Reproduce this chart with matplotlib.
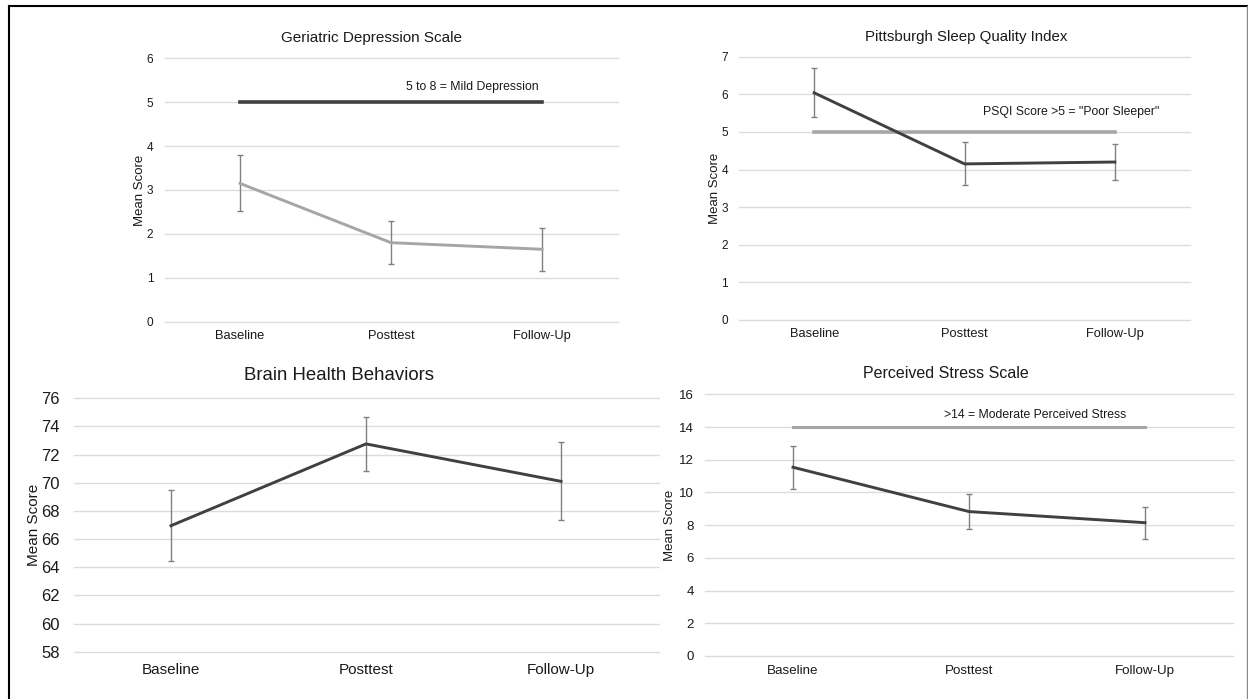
import matplotlib
matplotlib.use("Agg")
import matplotlib.pyplot as plt
from matplotlib.lines import Line2D

plt.rcParams["font.family"] = ["Liberation Sans", "DejaVu Sans"]

categories = ["Baseline", "Posttest", "Follow-Up"]

# Geriatric Depression Scale
gds_mean = [3.15, 1.80, 1.65]
gds_upper = [3.79, 2.29, 2.14]
gds_lower = [2.52, 1.31, 1.16]
gds_ref = 5

# Pittsburgh Sleep Quality Index
psqi_mean = [6.04, 4.15, 4.20]
psqi_upper = [6.69, 4.72, 4.69]
psqi_lower = [5.40, 3.58, 3.71]
psqi_ref = 5

# Brain Health Behaviors
bhb_mean = [66.95, 72.76, 70.10]
bhb_upper = [69.49, 74.70, 72.87]
bhb_lower = [64.44, 70.84, 67.36]

# Perceived Stress Scale
pss_mean = [11.54, 8.83, 8.15]
pss_upper = [12.82, 9.91, 9.11]
pss_lower = [10.23, 7.75, 7.15]
pss_ref = 14

DARK = "#404040"
LIGHT = "#a6a6a6"
GRID = "#dcdcdc"
ERR = "#808080"
TXT = "#1a1a1a"

W, H = 1248, 699
fig = plt.figure(figsize=(W / 100, H / 100), dpi=100)


def make_ax(x0, y0, x1, y1):
    # pixel box -> figure fraction
    return fig.add_axes([x0 / W, 1 - y1 / H, (x1 - x0) / W, (y1 - y0) / H])


def style(ax, ylim, yticks, tick_fs, cat_fs, ypad, xpad):
    ax.set_xlim(-0.5, 2.5)
    ax.set_ylim(*ylim)
    ax.set_yticks(yticks)
    ax.set_xticks(range(len(categories)))
    ax.set_xticklabels(categories)
    for s in ax.spines.values():
        s.set_visible(False)
    ax.grid(axis="y", color=GRID, linewidth=1.0)
    for g in ax.get_ygridlines():
        g.set_clip_on(False)
    ax.set_axisbelow(True)
    ax.tick_params(axis="y", length=0, labelsize=tick_fs, pad=ypad, labelcolor=TXT)
    ax.tick_params(axis="x", length=0, labelsize=cat_fs, pad=xpad, labelcolor=TXT)


def series(ax, mean, lower, upper, color, lw):
    x = list(range(len(mean)))
    yerr = [[m - l for m, l in zip(mean, lower)], [u - m for m, u in zip(mean, upper)]]
    ax.errorbar(x, mean, yerr=yerr, fmt="none", ecolor=ERR, elinewidth=1.0,
                capsize=2, capthick=1.0, zorder=3)
    ax.plot(x, mean, color=color, linewidth=lw, zorder=4)


# top-left: GDS
ax1 = make_ax(164.5, 58.3, 617.5, 321.7)
style(ax1, (0, 6), range(0, 7), 8.5, 9.3, 8, 6)
ax1.plot([0, 2], [gds_ref, gds_ref], color=DARK, linewidth=2.6, zorder=2)
series(ax1, gds_mean, gds_lower, gds_upper, LIGHT, 2.1)
ax1.text(1.536, 5.35, "5 to 8 = Mild Depression", ha="center", va="center", fontsize=8.8, color=TXT)
ax1.set_title("Geriatric Depression Scale", fontsize=11, x=0.458, pad=12, color=TXT)
ax1.set_ylabel("Mean Score", fontsize=9.5, color=TXT)
ax1.yaxis.set_label_coords(-0.040, 0.5)

# top-right: PSQI
ax2 = make_ax(739, 56.7, 1190, 320)
style(ax2, (0, 7), range(0, 8), 8.5, 9.3, 8, 6)
ax2.plot([0, 2], [psqi_ref, psqi_ref], color=LIGHT, linewidth=2.6, zorder=2)
series(ax2, psqi_mean, psqi_lower, psqi_upper, DARK, 2.1)
ax2.text(1.712, 5.53, "PSQI Score >5 = \"Poor Sleeper\"", ha="center", va="center", fontsize=8.8, color=TXT)
ax2.set_title("Pittsburgh Sleep Quality Index", fontsize=10.8, x=0.503, pad=11, color=TXT)
ax2.set_ylabel("Mean Score", fontsize=9.5, color=TXT)
ax2.yaxis.set_label_coords(-0.041, 0.5)

# bottom-left: Brain Health Behaviors
ax3 = make_ax(73.5, 398.3, 658.5, 651.7)
style(ax3, (58, 76), range(58, 77, 2), 12, 11, 10, 8)
series(ax3, bhb_mean, bhb_lower, bhb_upper, DARK, 2.1)
ax3.set_title("Brain Health Behaviors", fontsize=13.4, x=0.454, pad=13, color=TXT)
ax3.set_ylabel("Mean Score", fontsize=11, color=TXT)
ax3.yaxis.set_label_coords(-0.056, 0.5)

# bottom-right: PSS
ax4 = make_ax(705, 394.3, 1233, 656)
style(ax4, (0, 16), range(0, 17, 2), 9.5, 9.6, 8, 6.5)
ax4.plot([0, 2], [pss_ref, pss_ref], color=LIGHT, linewidth=2.2, zorder=2)
series(ax4, pss_mean, pss_lower, pss_upper, DARK, 2.1)
ax4.text(1.375, 14.72, ">14 = Moderate Perceived Stress", ha="center", va="center", fontsize=8.8, color=TXT)
ax4.set_title("Perceived Stress Scale", fontsize=11.5, x=0.4555, pad=12, color=TXT)
ax4.set_ylabel("Mean Score", fontsize=9.5, color=TXT)
ax4.yaxis.set_label_coords(-0.054, 0.5)

# outer frame
fig.add_artist(Line2D([9 / W, 1247 / W], [1 - 6 / H, 1 - 6 / H], color="black", linewidth=1.5))
fig.add_artist(Line2D([9 / W, 9 / W], [0, 1 - 6 / H], color="black", linewidth=1.5))
fig.add_artist(Line2D([1246.5 / W, 1246.5 / W], [0, 1 - 6 / H], color="#888888", linewidth=1.0))

fig.savefig("out.png", dpi=100)
